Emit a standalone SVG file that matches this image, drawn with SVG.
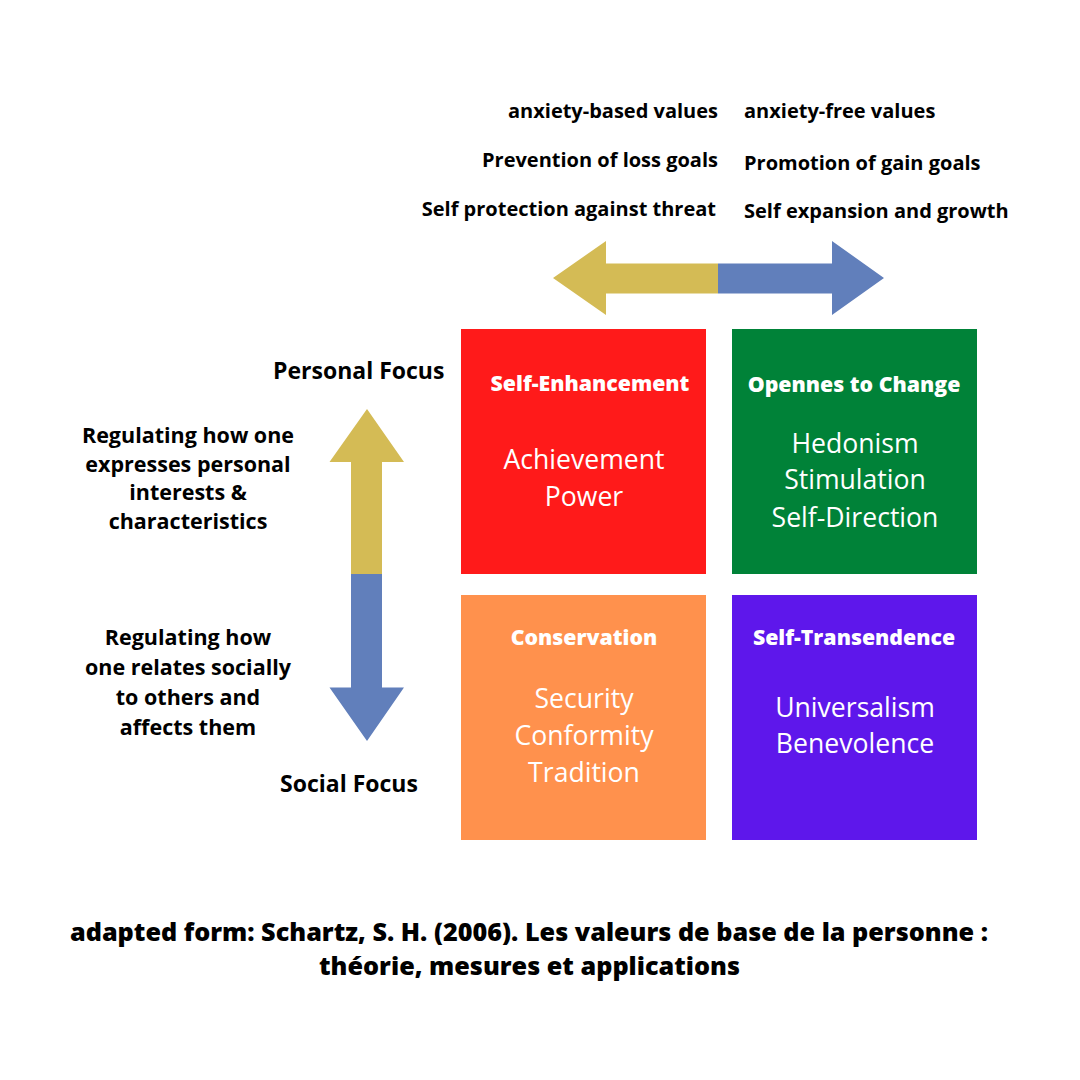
<svg xmlns="http://www.w3.org/2000/svg" width="1080" height="1080" viewBox="0 0 1080 1080">
<style>
.lbl{font-family:"Open Sans","Liberation Sans",sans-serif;font-weight:700;font-size:20px;fill:#000}
.head{font-family:"Open Sans","Liberation Sans",sans-serif;font-weight:800;font-size:21.3px;fill:#fff;text-anchor:middle}
.body{font-family:"Open Sans","Liberation Sans",sans-serif;font-weight:400;font-size:26.6px;fill:#fff;text-anchor:middle}
.focus{font-family:"Open Sans","Liberation Sans",sans-serif;font-weight:700;font-size:23px;fill:#000}
.side{font-family:"Open Sans","Liberation Sans",sans-serif;font-weight:700;font-size:21.5px;fill:#000;text-anchor:middle}
.foot{font-family:"Open Sans","Liberation Sans",sans-serif;font-weight:800;font-size:25px;fill:#000;text-anchor:middle}
.yel{fill:#d4bb55}
.blu{fill:#617fbb}
</style>
<rect width="1080" height="1080" fill="#fff"/>
<g id="top-labels">
<text class="lbl" x="718" y="118" text-anchor="end">anxiety-based values</text>
<text class="lbl" x="718" y="167" text-anchor="end">Prevention of loss goals</text>
<text class="lbl" x="716" y="216" text-anchor="end">Self protection against threat</text>
<text class="lbl" x="744" y="118">anxiety-free values</text>
<text class="lbl" x="744" y="170">Promotion of gain goals</text>
<text class="lbl" x="744" y="218">Self expansion and growth</text>
</g>
<g id="connectors">
<polygon class="yel" points="718,263.5 606,263.5 606,241 553,278 606,315 606,293.5 718,293.5"/>
<polygon class="blu" points="718,263.5 832,263.5 832,241 884,278 832,315 832,293.5 718,293.5"/>
<polygon class="yel" points="351,574 351,462 329.5,462 367,409 404,462 382,462 382,574"/>
<polygon class="blu" points="351,574 351,687.5 329.5,687.5 367,741 404,687.5 382,687.5 382,574"/>
</g>
<g id="side-labels">
<text class="focus" x="273" y="379">Personal Focus</text>
<text class="focus" x="280" y="792">Social Focus</text>
<text class="side" x="188" y="443">Regulating how one</text>
<text class="side" x="188" y="472">expresses personal</text>
<text class="side" x="188" y="500">interests &amp;</text>
<text class="side" x="188" y="529">characteristics</text>
<text class="side" x="188" y="645">Regulating how</text>
<text class="side" x="188" y="675">one relates socially</text>
<text class="side" x="188" y="705">to others and</text>
<text class="side" x="188" y="735">affects them</text>
</g>
<g id="self-enhancement">
<rect x="461" y="329" width="245" height="245" fill="#ff1a1a"/>
<text class="head" x="590" y="391">Self-Enhancement</text>
<text class="body" x="584" y="469">Achievement</text>
<text class="body" x="584" y="506">Power</text>
</g>
<g id="openness-to-change">
<rect x="732" y="329" width="245" height="245" fill="#008238"/>
<text class="head" x="854" y="392">Opennes to Change</text>
<text class="body" x="855" y="453">Hedonism</text>
<text class="body" x="855" y="489">Stimulation</text>
<text class="body" x="855" y="527">Self-Direction</text>
</g>
<g id="conservation">
<rect x="461" y="595" width="245" height="245" fill="#ff914d"/>
<text class="head" x="584" y="645">Conservation</text>
<text class="body" x="584" y="708">Security</text>
<text class="body" x="584" y="745">Conformity</text>
<text class="body" x="584" y="782">Tradition</text>
</g>
<g id="self-transcendence">
<rect x="732" y="595" width="245" height="245" fill="#5e17eb"/>
<text class="head" x="854" y="645">Self-Transendence</text>
<text class="body" x="855" y="717">Universalism</text>
<text class="body" x="855" y="753">Benevolence</text>
</g>
<g id="footer">
<text class="foot" x="529" y="941" textLength="918" lengthAdjust="spacingAndGlyphs">adapted form: Schartz, S. H. (2006). Les valeurs de base de la personne :</text>
<text class="foot" x="529.5" y="975" textLength="421" lengthAdjust="spacingAndGlyphs">théorie, mesures et applications</text>
</g>
</svg>
